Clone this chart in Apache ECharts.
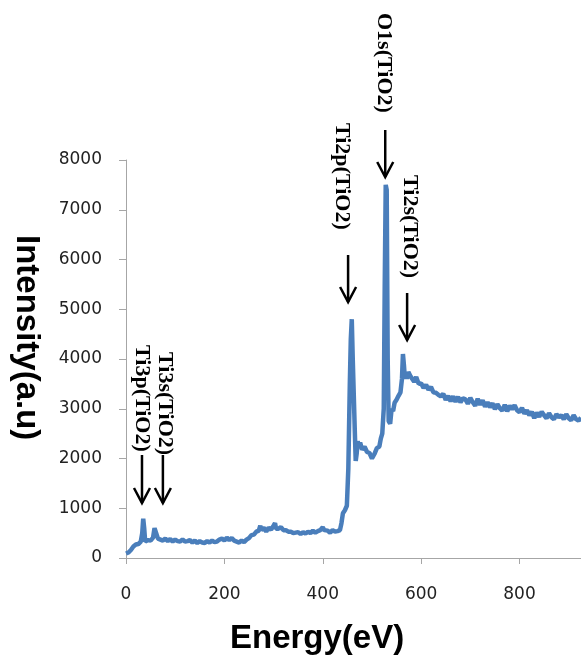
<!DOCTYPE html>
<html>
<head>
<meta charset="utf-8">
<script src="https://cdn.jsdelivr.net/npm/echarts@6/dist/echarts.min.js"></script>
<style>
html,body{margin:0;padding:0;background:#fff;}
#chart{width:581px;height:658px;}
</style>
</head>
<body>
<div id="chart"></div>
<script>
// Binding energy (eV)
var energy = [0,5,10,15,20,25,30,33,35,37,39,42,45,50,55,58,60,62,65,70,75,80,85,90,95,100,105,110,115,120,125,130,135,140,145,150,155,160,165,170,175,180,185,190,195,200,205,210,215,220,225,230,235,240,245,250,255,260,265,270,273,275,280,285,290,295,300,303,305,310,315,320,325,330,335,340,345,350,355,360,365,370,375,380,385,390,395,400,403,405,410,415,420,425,430,435,438,441,445,449,452,455,457,459,461,463,465,467,469,471,473,476,480,485,490,495,500,505,510,515,518,521,524,526,528,530,532,534,537,540,543,546,550,554,558,561,563,565,567,569,571,574,578,582,586,590,595,600,605,610,615,620,625,630,635,640,645,650,655,660,665,670,675,680,685,690,695,700,705,710,715,720,725,730,735,740,745,750,755,760,765,770,775,780,785,790,795,800,805,810,815,820,825,830,835,840,845,850,855,860,865,870,875,880,885,890,895,900,905,910,915,920,925];
// Intensity (a.u)
var intensity = [90,110,160,230,270,280,330,500,790,600,330,320,360,350,410,600,610,480,390,370,350,390,340,380,330,370,340,330,370,330,340,360,310,350,300,340,310,300,340,310,350,320,330,370,390,350,410,360,400,350,330,310,350,320,370,400,460,470,530,550,650,560,610,530,610,570,650,700,590,590,620,560,560,530,530,500,510,520,480,520,490,530,500,550,510,540,560,620,560,530,550,510,560,530,540,560,700,900,960,1050,1800,3500,4400,4800,4000,3300,2600,1950,2100,2350,2250,2320,2180,2240,2130,2110,2000,2090,2210,2240,2400,2500,3000,5500,7500,7400,4000,2750,2700,3000,2950,3120,3180,3260,3330,3600,4100,3880,3600,3720,3600,3740,3660,3660,3540,3640,3500,3510,3420,3480,3380,3440,3330,3320,3280,3250,3300,3180,3260,3150,3250,3140,3240,3130,3210,3190,3100,3220,3130,3060,3200,3080,3170,3040,3130,3030,3110,2990,3090,3010,2960,3080,2950,3060,2990,3070,2970,2930,3020,2900,2970,2870,2940,2810,2920,2840,2940,2870,2810,2910,2830,2790,2890,2830,2870,2790,2890,2810,2770,2870,2790,2760,2820];
var xTicks = [0,200,400,600,800];
// Peak annotations: label, text centre energy, text top intensity, arrow energy, arrow start/end intensity
var annLabels = ['Ti3p(TiO2)','Ti3s(TiO2)','Ti2p(TiO2)','O1s(TiO2)','Ti2s(TiO2)'];
var annTextE = [32.5,79,439,523,577.6];
var annTextTop = [4281,4140,8744,10955,7698];
var annArrowE = [32.5,75,451.5,527,571.5];
var annArrowFrom = [2070,2070,6090,8603,5327];
var annArrowTo = [1105,1105,5146,7658,4382];

var seriesData = energy.map(function(e,i){return [e,intensity[i]];});
var chart = echarts.init(document.getElementById('chart'));
var labelStyle = {color:'#222',fontSize:17,fontFamily:'DejaVu Sans',formatter:function(v){return String(v);}};
chart.setOption({
  animation:false,
  backgroundColor:'#fff',
  grid:{left:126,right:0,top:160,bottom:100},
  xAxis:{type:'value',min:0,max:925,
    axisLine:{show:true,lineStyle:{color:'#a6a6a6',width:1}},
    axisTick:{show:true,length:6,lineStyle:{color:'#a6a6a6'},customValues:xTicks},
    axisLabel:Object.assign({margin:28,customValues:xTicks},labelStyle),
    splitLine:{show:false}},
  yAxis:{type:'value',min:0,max:8000,interval:1000,
    axisLine:{show:true,lineStyle:{color:'#a6a6a6',width:1}},
    axisTick:{show:true,length:7,lineStyle:{color:'#a6a6a6'}},
    axisLabel:Object.assign({margin:24},labelStyle),
    splitLine:{show:false}},
  series:[{type:'line',data:seriesData,showSymbol:false,symbol:'none',
    lineStyle:{color:'#4a7ebb',width:4.5},itemStyle:{color:'#4a7ebb'}}]
});

var g = [];
g.push({type:'text',x:26,y:235,rotation:-Math.PI/2,
  style:{text:'Intensity(a.u)',fontSize:33,fontWeight:'bold',fontFamily:'Liberation Sans',fill:'#000',align:'left',verticalAlign:'middle'}});
g.push({type:'text',x:230,y:639,
  style:{text:'Energy(eV)',fontSize:33,fontWeight:'bold',fontFamily:'Liberation Sans',fill:'#000',align:'left',verticalAlign:'middle'}});
for (var i=0;i<annLabels.length;i++){
  var tp = chart.convertToPixel({gridIndex:0},[annTextE[i],annTextTop[i]]);
  var a0 = chart.convertToPixel({gridIndex:0},[annArrowE[i],annArrowFrom[i]]);
  var a1 = chart.convertToPixel({gridIndex:0},[annArrowE[i],annArrowTo[i]]);
  g.push({type:'text',x:tp[0],y:tp[1],rotation:-Math.PI/2,
    style:{text:annLabels[i],fontSize:22,fontWeight:'bold',fontFamily:'Liberation Serif',fill:'#000',align:'left',verticalAlign:'middle'}});
  g.push({type:'line',shape:{x1:a0[0],y1:a0[1],x2:a1[0],y2:a1[1]},style:{stroke:'#000',lineWidth:2.5}});
  g.push({type:'polyline',shape:{points:[[a1[0]-8,a1[1]-15],[a1[0],a1[1]],[a1[0]+8,a1[1]-15]]},style:{stroke:'#000',lineWidth:2.5,fill:null}});
}
chart.setOption({graphic:g});
</script>
</body>
</html>
